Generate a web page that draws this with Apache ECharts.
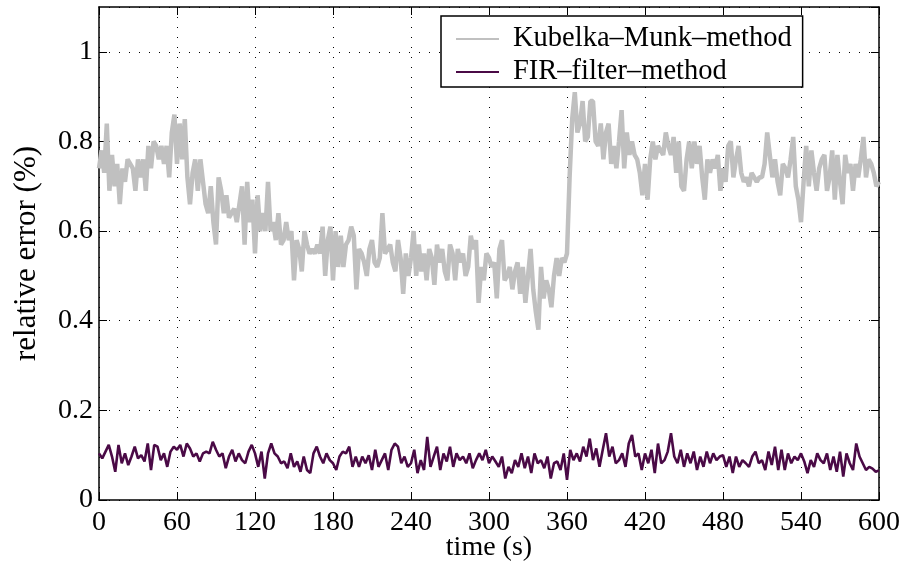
<!DOCTYPE html>
<html>
<head>
<meta charset="utf-8">
<script src="https://cdn.jsdelivr.net/npm/echarts@6/dist/echarts.min.js"></script>
<style>html,body{margin:0;padding:0;background:#fff}#c{width:903px;height:562px}</style>
</head>
<body>
<div id="c"></div>
<script>
// time step (s) between samples of each series
const kmStep = 2;
const firStep = 2.5;
const xTicks = [0, 60, 120, 180, 240, 300, 360, 420, 480, 540, 600];
const yTicks = [0, 0.2, 0.4, 0.6, 0.8, 1];
const seriesNames = ['Kubelka\u2013Munk\u2013method', 'FIR\u2013filter\u2013method'];

const kmValues = [
0.74,0.78,0.73,0.84,0.69,0.77,0.70,0.75,0.66,0.74,
0.71,0.76,0.75,0.74,0.69,0.76,0.72,0.76,0.69,0.79,
0.74,0.80,0.79,0.76,0.79,0.75,0.79,0.72,0.82,0.86,
0.75,0.84,0.76,0.85,0.72,0.66,0.73,0.76,0.69,0.76,
0.71,0.66,0.64,0.70,0.62,0.57,0.72,0.69,0.64,0.68,
0.63,0.64,0.65,0.62,0.66,0.70,0.57,0.71,0.62,0.67,
0.55,0.68,0.60,0.64,0.60,0.71,0.60,0.62,0.58,0.64,
0.57,0.58,0.62,
0.58,0.60,
0.49,0.58,0.56,0.51,0.60,0.57,0.55,0.56,0.55,0.57,
0.55,0.61,0.50,0.58,0.61,0.49,0.60,0.52,0.59,0.52,
0.57,0.58,0.61,0.59,0.47,0.56,0.55,0.53,0.50,0.56,
0.58,0.53,0.52,0.54,0.64,0.55,0.56,0.57,0.53,0.51,
0.58,0.54,0.46,0.55,0.50,0.54,0.60,0.50,0.57,0.51,
0.55,0.49,0.56,0.54,0.48,0.57,0.53,0.56,0.51,0.49,
0.57,0.55,0.49,0.56,0.53,0.55,0.50,0.52,0.59,0.56,
0.58,0.44,0.52,
0.49,0.55,0.54,0.52,0.53,0.45,0.56,0.58,0.49,0.50,
0.52,0.47,0.51,0.53,0.46,0.52,0.44,0.50,0.56,0.47,
0.42,0.38,0.52,0.45,0.49,0.47,0.43,0.50,0.54,0.50,
0.54,0.53,0.55,
0.72,0.85,0.91,0.82,0.84,0.89,0.80,0.81,0.89,0.89,
0.80,0.79,0.84,0.76,0.82,0.84,0.75,0.79,0.74,0.80,
0.87,0.74,0.82,0.77,0.80,0.77,0.76,0.73,0.68,0.75,
0.67,0.76,0.80,0.76,0.79,0.78,0.77,0.82,0.79,0.77,
0.81,0.73,0.80,0.70,0.69,0.76,0.80,0.74,0.80,0.75,
0.79,0.72,0.67,0.76,0.73,0.76,0.74,0.77,0.69,0.74,
0.71,0.79,0.80,0.72,0.76,0.79,0.73,0.71,0.72,0.70,
0.73,0.72,0.71,0.72,
0.72,0.75,0.82,0.77,0.72,0.76,0.71,0.68,0.75,0.74,
0.72,0.76,0.81,0.70,0.67,0.62,0.71,0.79,0.70,0.78,
0.73,0.69,0.74,0.76,0.77,0.69,0.72,0.78,0.67,0.77,
0.71,0.66,0.77,0.73,0.75,0.69,0.75,0.72,0.76,0.81,
0.72,0.76,0.75,0.73,0.70,0.71
];

const firValues = [
0.104,0.093,0.108,0.123,0.097,0.063,0.123,0.082,0.104,0.078,
0.097,0.119,0.093,0.100,0.086,0.126,0.067,0.123,0.119,0.089,
0.104,0.074,0.108,0.119,0.112,0.123,0.097,0.126,0.115,0.097,
0.104,0.086,0.104,0.108,0.104,0.130,0.112,0.097,0.104,0.071,
0.097,0.112,0.086,0.104,0.089,0.082,0.108,0.123,0.104,0.074,
0.108,0.048,0.104,0.126,0.104,0.097,0.082,0.086,0.071,0.104,
0.074,0.086,0.063,0.097,0.067,0.060,0.104,0.119,0.097,0.082,
0.104,0.089,0.082,0.067,0.097,0.108,0.104,0.119,0.074,0.097,
0.074,0.097,0.082,0.100,0.067,0.112,0.074,0.089,0.104,0.067,
0.112,0.126,0.119,0.082,0.097,0.074,0.082,0.112,0.060,0.089,
0.067,0.141,0.074,0.097,0.119,0.067,0.104,0.086,0.119,0.074,
0.104,0.089,0.097,0.082,0.104,0.071,0.089,0.104,0.089,0.112,
0.082,0.097,0.086,0.074,0.097,0.048,0.074,0.060,0.089,0.074,
0.104,0.071,0.097,0.060,0.104,0.082,0.089,0.071,0.097,0.048,
0.082,0.086,0.067,0.104,0.045,0.112,0.089,0.104,0.086,0.119,
0.097,0.137,0.089,0.115,0.074,0.112,0.149,0.097,0.119,0.082,
0.089,0.104,0.074,0.126,0.145,0.097,0.104,0.067,0.104,0.082,
0.112,0.060,0.126,0.082,0.089,0.108,0.149,0.097,0.082,0.112,
0.074,0.104,0.082,0.108,0.067,0.097,0.074,0.108,0.082,0.104,
0.089,0.097,0.100,0.074,0.097,0.060,0.097,0.074,0.089,0.082,
0.074,0.097,0.108,0.082,0.089,0.067,0.108,0.078,0.119,0.067,
0.112,0.067,0.104,0.082,0.097,0.089,0.104,0.086,0.060,0.089,
0.074,0.104,0.089,0.082,0.104,0.067,0.097,0.063,0.108,0.052,
0.104,0.082,0.067,0.126,0.097,0.082,0.067,0.074,0.070,0.063,
0.066
];

const kmData = kmValues.map((v, i) => [i * kmStep, v]);
const firData = firValues.map((v, i) => [i * firStep, v]);

const FONT = "'Liberation Serif','DejaVu Serif',serif";
const chart = echarts.init(document.getElementById('c'), null, {renderer: 'canvas'});

const dotted = {show: true, lineStyle: {color: '#000', width: 1, type: [1, 9]}};
const axisLine = {show: true, onZero: false, lineStyle: {color: '#000', width: 1.5}};
const tickIn = {show: true, inside: true, length: 8, lineStyle: {color: '#000', width: 1}};

chart.setOption({
  animation: false,
  backgroundColor: '#fff',
  grid: {left: 99, right: 24, top: 7, bottom: 62, show: false, containLabel: false, outerBoundsMode: 'none'},
  legend: {
    orient: 'vertical',
    left: 441, top: 16,
    padding: [8, 11, 0, 14],
    itemGap: 3,
    itemWidth: 43, itemHeight: 14,
    borderColor: '#000', borderWidth: 1.5,
    borderRadius: 0,
    backgroundColor: '#fff',
    itemStyle: {opacity: 0},
    textStyle: {fontFamily: FONT, fontSize: 28.5, color: '#000', lineHeight: 30, padding: [0, 0, 0, 9]},
    data: seriesNames
  },
  xAxis: [{
    type: 'value', min: xTicks[0], max: xTicks[xTicks.length - 1], interval: 60,
    position: 'bottom',
    axisLine: axisLine, axisTick: tickIn,
    axisLabel: {fontFamily: FONT, fontSize: 28, color: '#000', margin: 9},
    splitLine: dotted,
    name: 'time (s)', nameLocation: 'middle', nameGap: 34, nameMoveOverlap: false,
    nameTextStyle: {fontFamily: FONT, fontSize: 28, color: '#000'}
  }, {
    type: 'value', min: xTicks[0], max: xTicks[xTicks.length - 1], interval: 60,
    position: 'top',
    axisLine: axisLine, axisTick: tickIn,
    axisLabel: {show: false}, splitLine: {show: false}
  }],
  yAxis: [{
    type: 'value', min: 0, max: 1.1, interval: 0.2,
    position: 'left',
    axisLine: axisLine, axisTick: tickIn,
    axisLabel: {fontFamily: FONT, fontSize: 28, color: '#000', margin: 6, showMaxLabel: false,
      formatter: v => (yTicks.some(t => Math.abs(t - v) < 1e-9) ? String(+v.toFixed(1)) : '')},
    splitLine: dotted,
    name: 'relative error (%)', nameLocation: 'middle', nameGap: 57, nameMoveOverlap: false,
    nameTextStyle: {fontFamily: FONT, fontSize: 31, color: '#000'}
  }, {
    type: 'value', min: 0, max: 1.1, interval: 0.2,
    position: 'right',
    axisLine: axisLine, axisTick: tickIn,
    axisLabel: {show: false}, splitLine: {show: false}
  }],
  series: [{
    name: seriesNames[0], type: 'line', data: kmData, symbol: 'none',
    lineStyle: {color: '#c0c0c0', width: 4.5}, itemStyle: {color: '#c0c0c0'}, z: 2
  }, {
    name: seriesNames[1], type: 'line', data: firData, symbol: 'none',
    lineStyle: {color: '#4a0a46', width: 2.6}, itemStyle: {color: '#4a0a46'}, z: 3
  }]
});
</script>
</body>
</html>
